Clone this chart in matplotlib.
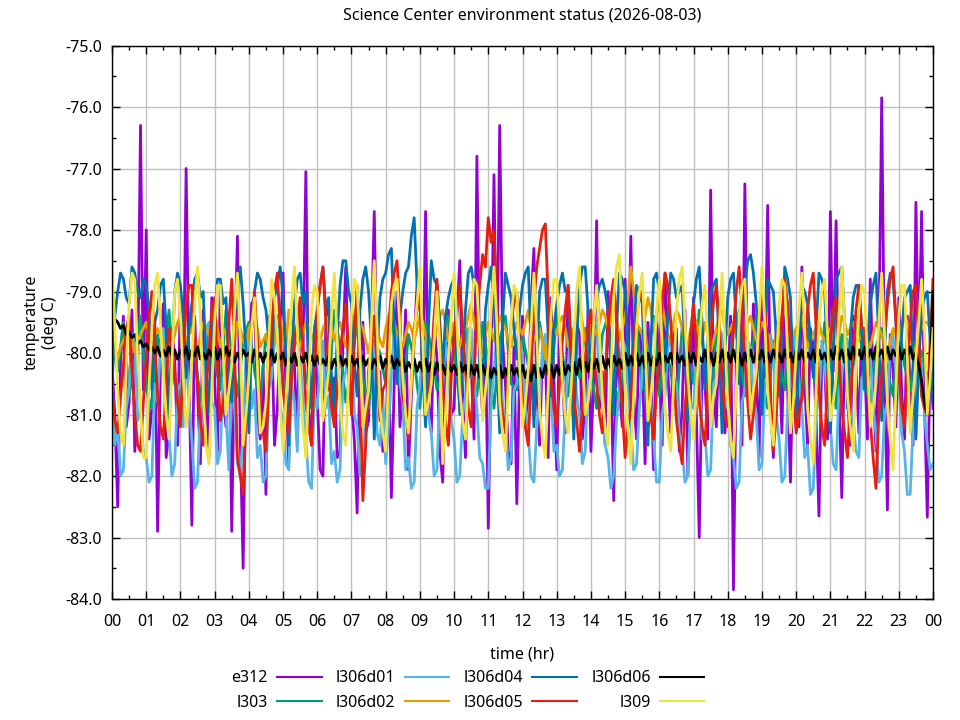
import matplotlib
matplotlib.use("Agg")
import matplotlib.pyplot as plt
from matplotlib.ticker import MultipleLocator, FuncFormatter
import numpy as np

plt.rcParams['font.family'] = ['Noto Sans', 'DejaVu Sans']

# readings every 5 minutes, 00:00 .. 24:00 (one row = one hour)
e312 = [
    -80.2, -81.0, -82.5, -80.1, -79.4, -81.2, -80.8, -79.3, -81.6, -80.4, -76.3, -80.6,
    -78.0, -81.4, -80.9, -79.5, -82.9, -80.2, -79.2, -81.7, -81.3, -79.6, -80.1, -81.5,
    -79.0, -80.7, -77.0, -80.3, -82.8, -79.4, -80.6, -81.8, -79.3, -80.5, -81.7, -79.1,
    -80.4, -81.6, -78.9, -80.8, -81.2, -79.5, -82.9, -80.0, -78.1, -81.4, -83.5, -80.2,
    -80.3, -79.2, -79.1, -81.0, -81.4, -80.2, -82.3, -79.4, -79.6, -81.5, -80.9, -79.7,
    -78.7, -80.6, -81.8, -79.8, -80.2, -81.3, -79.4, -80.0, -77.05, -80.9, -81.5, -79.6,
    -80.7, -81.9, -82.0, -79.5, -79.2, -80.8, -80.4, -81.7, -81.6, -79.9, -78.6, -80.5,
    -80.8, -81.4, -82.6, -80.1, -79.5, -81.3, -81.1, -79.6, -77.7, -80.4, -80.3, -81.6,
    -81.4, -80.0, -82.35, -80.5, -79.0, -81.2, -80.6, -79.3, -81.9, -80.7, -79.8, -78.9,
    -78.8, -80.6, -77.7, -80.8, -81.3, -79.5, -80.1, -81.6, -82.1, -80.3, -79.3, -81.0,
    -80.9, -79.4, -78.5, -80.7, -81.7, -79.8, -80.2, -81.4, -76.8, -80.3, -81.0, -79.7,
    -82.85, -80.2, -77.1, -80.6, -76.3, -79.8, -80.5, -81.6, -81.8, -79.9, -82.45, -80.3,
    -79.4, -81.1, -80.7, -79.2, -78.3, -80.6, -81.5, -80.0, -80.0, -81.7, -79.1, -80.4,
    -81.9, -79.6, -80.4, -81.3, -78.9, -80.2, -81.2, -79.5, -79.7, -81.4, -80.8, -79.3,
    -81.6, -80.4, -77.85, -80.9, -80.3, -81.5, -79.0, -80.2, -82.4, -79.7, -80.6, -81.2,
    -78.8, -80.5, -78.1, -80.7, -81.4, -79.6, -80.1, -81.8, -79.5, -80.4, -81.9, -79.4,
    -80.2, -81.5, -78.7, -80.3, -81.3, -79.7, -79.6, -81.6, -80.9, -79.3, -82.0, -80.6,
    -79.1, -81.0, -83.0, -80.2, -80.5, -81.4, -77.35, -80.6, -81.2, -79.6, -79.8, -81.3,
    -80.6, -79.4, -83.85, -80.1, -79.3, -81.5, -77.25, -80.5, -81.0, -79.2, -80.3, -81.7,
    -78.9, -80.4, -77.6, -80.8, -81.7, -79.5, -80.0, -81.3, -79.2, -80.6, -82.1, -79.9,
    -80.4, -81.2, -78.6, -80.5, -81.5, -79.6, -79.9, -81.1, -82.65, -80.0, -80.2, -81.4,
    -77.7, -80.3, -77.85, -80.6, -82.35, -79.8, -80.7, -81.5, -79.4, -80.2, -81.3, -79.6,
    -80.1, -81.4, -78.8, -80.5, -81.6, -79.9, -75.85, -80.4, -82.55, -79.7, -80.3, -81.2,
    -79.1, -80.6, -81.4, -79.4, -80.6, -81.5, -77.55, -80.2, -77.7, -80.8, -82.67, -80.1,
    -80.9]

# l303: every 10 minutes
l303 = [
    -79.8, -80.3, -79.5, -80.7, -80.1, -79.4, -80.6, -80.9, -79.7, -80.2, -79.3, -80.5,
    -80.8, -79.9, -79.4, -80.4, -80.9, -79.6, -80.1, -80.6, -79.3, -80.0, -80.7, -79.8,
    -79.5, -80.3, -80.8, -79.7, -80.2, -79.4, -80.5, -80.9, -79.9, -79.6, -80.4, -80.7,
    -79.6, -80.1, -80.6, -79.3, -79.9, -80.8, -80.2, -79.5, -80.4, -80.9, -79.8, -80.0,
    -80.5, -79.4, -80.2, -80.7, -79.7, -80.1, -80.9, -79.5, -79.9, -80.6, -80.3, -79.4,
    -80.0, -80.8, -79.6, -80.3, -80.7, -79.5, -80.2, -80.9, -79.8, -79.4, -80.5, -80.6,
    -79.7, -80.2, -80.8, -79.5, -80.1, -80.6, -79.3, -80.0, -80.7, -79.9, -80.4, -79.6,
    -80.3, -80.9, -79.7, -79.4, -80.5, -80.8, -79.9, -80.2, -79.5, -80.6, -80.1, -79.4,
    -80.7, -79.8, -80.3, -80.9, -79.6, -80.0, -80.5, -79.3, -80.2, -80.8, -79.7, -80.1,
    -80.6, -79.5, -79.9, -80.7, -80.2, -79.4, -80.4, -80.9, -79.8, -80.1, -80.6, -79.5,
    -80.0, -80.8, -79.6, -80.3, -80.7, -79.5, -80.1, -80.9, -79.7, -80.4, -80.2, -79.4,
    -80.5, -80.8, -79.9, -79.6, -80.3, -80.7, -79.5, -80.2, -80.6, -79.8, -80.0, -80.4,
    -80.1]

l306d01 = [
    -80.4, -81.5, -81.2, -82.0, -81.9, -80.9, -80.6, -79.7, -79.8, -81.1, -80.9, -81.6,
    -81.7, -82.1, -82.0, -80.5, -80.8, -79.9, -79.6, -80.7, -81.3, -82.0, -81.8, -80.6,
    -80.5, -81.2, -79.9, -80.8, -81.4, -82.2, -82.1, -80.9, -80.7, -79.6, -79.5, -80.8,
    -80.9, -81.8, -81.6, -80.4, -81.0, -81.9, -80.2, -80.9, -81.8, -82.0, -81.3, -80.1,
    -79.7, -80.9, -80.6, -81.7, -81.5, -82.1, -82.0, -80.6, -80.4, -79.8, -79.6, -80.9,
    -81.1, -81.8, -81.9, -80.5, -80.8, -81.6, -80.1, -80.8, -81.4, -82.1, -82.2, -80.7,
    -80.9, -80.2, -79.8, -80.9, -80.7, -81.8, -81.6, -82.1, -81.9, -80.5, -80.3, -79.8,
    -79.9, -81.0, -81.2, -82.0, -82.0, -80.9, -80.6, -79.7, -80.0, -81.3, -81.5, -80.7,
    -81.8, -81.2, -80.4, -79.6, -79.7, -80.5, -80.8, -81.9, -81.7, -82.2, -82.1, -80.9,
    -80.5, -79.9, -79.8, -81.0, -81.3, -82.0, -81.9, -80.7, -80.6, -79.8, -80.2, -81.1,
    -81.4, -82.1, -82.0, -81.0, -80.7, -79.6, -79.6, -80.4, -80.9, -81.7, -81.8, -82.2,
    -82.2, -80.8, -80.3, -79.7, -79.9, -80.8, -81.1, -81.9, -81.7, -80.6, -80.5, -79.8,
    -80.0, -80.9, -81.3, -82.0, -82.1, -81.2, -80.8, -79.9, -79.7, -80.3, -80.6, -81.6,
    -81.5, -82.0, -81.9, -80.9, -80.2, -79.6, -79.8, -80.7, -81.0, -81.8, -81.6, -80.5,
    -80.4, -79.5, -79.5, -80.6, -80.8, -81.5, -81.7, -82.2, -82.0, -81.1, -80.6, -79.8,
    -79.9, -80.5, -81.2, -81.9, -81.8, -80.9, -80.3, -79.6, -80.1, -80.8, -81.4, -82.1,
    -82.1, -81.0, -80.7, -79.9, -79.8, -80.4, -80.5, -81.3, -81.6, -82.1, -82.0, -80.8,
    -80.9, -80.0, -80.2, -81.4, -81.3, -82.0, -81.9, -80.5, -80.4, -79.6, -79.7, -80.9,
    -80.8, -81.5, -81.7, -82.2, -82.1, -80.8, -80.6, -79.8, -79.9, -80.7, -81.0, -81.9,
    -81.8, -80.6, -80.3, -79.7, -80.0, -81.0, -81.4, -82.1, -82.0, -80.9, -80.5, -79.9,
    -79.6, -80.5, -80.9, -81.7, -81.5, -82.3, -82.2, -81.0, -80.7, -79.8, -80.1, -80.9,
    -81.2, -81.8, -81.9, -80.6, -80.4, -79.7, -79.8, -80.9, -81.1, -81.6, -81.7, -80.4,
    -80.6, -79.8, -80.0, -80.9, -81.3, -82.1, -82.0, -81.0, -80.8, -79.9, -79.7, -80.3,
    -80.5, -81.3, -81.6, -82.3, -82.3, -81.2, -80.9, -80.0, -80.2, -81.0, -81.5, -81.9,
    -81.8]

l306d02 = [
    -79.9, -80.0, -80.1, -79.9, -79.8, -79.7, -79.6, -79.8, -80.0, -79.8, -79.7, -79.6,
    -79.5, -79.7, -79.9, -79.7, -79.6, -79.7, -79.8, -80.0, -80.2, -79.9, -79.7, -79.5,
    -79.4, -79.6, -79.8, -79.7, -79.6, -79.8, -80.0, -79.7, -79.5, -79.6, -79.7, -79.5,
    -79.3, -79.6, -79.9, -79.7, -79.6, -79.9, -80.1, -79.8, -79.5, -79.6, -79.8, -79.9,
    -79.6, -79.5, -79.4, -79.6, -79.9, -79.8, -79.7, -79.9, -80.0, -79.7, -79.5, -79.4,
    -79.8, -79.9, -79.3, -79.5, -79.6, -79.8, -79.9, -79.7, -79.5, -79.6, -79.7, -79.8,
    -80.1, -79.8, -79.6, -79.5, -79.4, -79.6, -79.8, -79.6, -79.5, -79.7, -79.9, -79.8,
    -79.7, -79.4, -79.2, -79.5, -79.6, -79.8, -80.0, -79.7, -79.5, -79.6, -79.8, -79.9,
    -79.6, -79.4, -79.3, -79.5, -79.7, -79.8, -79.9, -79.7, -79.5, -79.6, -79.8, -79.6,
    -79.4, -79.5, -79.7, -79.9, -80.1, -79.8, -79.6, -79.4, -79.3, -79.5, -79.8, -79.7,
    -79.5, -79.7, -79.9, -79.7, -79.6, -79.4, -79.2, -79.5, -79.7, -79.9, -80.0, -79.7,
    -79.5, -79.6, -79.8, -79.6, -79.4, -79.5, -79.6, -79.8, -79.9, -79.7, -79.5, -79.6,
    -79.7, -79.5, -79.3, -79.6, -79.8, -79.7, -79.6, -79.8, -80.1, -79.8, -79.5, -79.6,
    -79.7, -79.5, -79.4, -79.6, -79.9, -79.8, -79.6, -79.4, -79.2, -79.5, -79.8, -79.9,
    -79.5, -79.6, -79.7, -79.5, -79.3, -79.4, -79.6, -79.5, -79.0, -79.4, -79.8, -79.6,
    -79.4, -79.1, -78.6, -79.0, -79.5, -79.6, -79.7, -79.4, -79.1, -79.3, -79.6, -79.5,
    -78.9, -79.2, -79.5, -79.7, -79.8, -79.5, -79.3, -79.4, -79.6, -79.8, -79.9, -79.6,
    -79.4, -79.5, -79.7, -79.8, -79.5, -79.7, -80.0, -79.8, -79.6, -79.4, -79.3, -79.6,
    -79.7, -79.6, -79.5, -79.7, -79.9, -79.7, -79.6, -79.5, -79.4, -79.6, -79.8, -79.7,
    -79.5, -79.6, -79.7, -79.9, -80.0, -79.7, -79.6, -79.4, -79.3, -79.5, -79.8, -79.7,
    -79.6, -79.5, -79.4, -79.7, -79.9, -79.8, -79.7, -79.6, -79.5, -79.7, -79.8, -79.7,
    -79.6, -79.8, -80.0, -79.7, -79.4, -79.5, -79.7, -79.6, -79.5, -79.7, -79.8, -79.7,
    -79.6, -79.8, -79.9, -79.7, -79.5, -79.6, -79.7, -79.9, -80.1, -79.8, -79.6, -79.7,
    -79.8, -79.6, -79.4, -79.5, -79.7, -79.9, -80.0, -79.8, -79.6, -79.5, -79.5, -79.6,
    -79.8]

l306d04 = [
    -80.6, -79.4, -79.0, -78.7, -78.8, -79.1, -79.2, -78.6, -78.7, -79.0, -79.1, -78.8,
    -78.9, -79.3, -80.6, -79.5, -79.3, -78.9, -78.8, -79.6, -81.2, -80.1, -79.0, -78.7,
    -78.9, -79.4, -80.4, -79.6, -79.2, -78.8, -78.7, -79.1, -79.0, -80.2, -81.0, -79.5,
    -79.4, -78.8, -78.8, -79.2, -79.1, -80.3, -80.8, -79.4, -78.9, -78.6, -79.2, -80.0,
    -81.3, -79.6, -79.0, -78.7, -78.8, -79.1, -79.3, -79.8, -80.2, -79.1, -78.9, -78.6,
    -79.1, -80.0, -81.5, -80.1, -79.2, -78.8, -78.7, -79.2, -79.0, -80.1, -80.9, -79.6,
    -79.3, -78.9, -78.6, -79.3, -79.1, -80.4, -81.1, -79.7, -78.9, -78.5, -78.5, -79.0,
    -79.2, -80.2, -80.7, -79.3, -78.8, -78.6, -79.0, -79.8, -81.4, -80.0, -79.1, -78.8,
    -78.7, -78.4, -78.3, -79.6, -80.5, -79.4, -79.0, -78.7, -78.6, -78.1, -77.8, -78.9,
    -79.2, -80.3, -81.2, -79.6, -78.5, -78.8, -78.9, -79.5, -80.3, -79.4, -79.1, -78.9,
    -78.8, -79.9, -81.0, -80.0, -79.3, -78.7, -78.6, -78.9, -79.0, -79.8, -80.6, -79.3,
    -78.9, -78.6, -79.2, -80.1, -81.3, -79.5, -78.7, -78.9, -79.1, -79.6, -80.1, -79.3,
    -78.9, -78.7, -78.6, -79.8, -81.2, -80.1, -79.0, -78.8, -78.8, -79.7, -80.7, -79.6,
    -79.2, -78.9, -78.7, -79.0, -79.0, -80.1, -81.4, -79.8, -78.9, -78.6, -78.6, -79.3,
    -80.4, -79.5, -79.1, -78.9, -78.8, -79.0, -79.3, -80.2, -81.0, -79.6, -78.7, -78.8,
    -79.0, -79.9, -80.8, -79.7, -78.9, -79.0, -79.2, -80.4, -81.5, -79.9, -78.8, -78.7,
    -79.0, -79.6, -80.3, -79.4, -78.7, -78.8, -79.1, -79.0, -78.9, -80.0, -81.1, -79.7,
    -79.2, -78.8, -78.6, -79.5, -80.6, -79.8, -79.0, -78.9, -78.8, -79.9, -81.3, -80.0,
    -79.1, -78.8, -78.7, -79.5, -80.5, -79.6, -78.9, -78.5, -78.4, -78.7, -79.2, -80.1,
    -81.0, -79.8, -78.8, -78.9, -79.0, -79.7, -80.7, -79.8, -78.6, -78.8, -79.1, -80.6,
    -81.2, -79.9, -78.9, -79.0, -79.2, -79.8, -80.4, -79.6, -78.7, -78.8, -79.0, -80.2,
    -81.3, -80.0, -78.8, -78.7, -78.6, -79.5, -80.9, -79.7, -79.1, -78.9, -78.9, -79.6,
    -80.6, -79.8, -79.2, -78.9, -78.7, -79.8, -81.1, -80.0, -79.0, -78.7, -78.8, -79.5,
    -80.5, -79.7, -79.1, -79.0, -78.9, -80.1, -81.4, -80.2, -79.3, -79.1, -79.0, -79.8,
    -80.8]

l306d05 = [
    -80.6, -81.1, -81.3, -80.7, -80.2, -79.6, -79.4, -80.3, -81.0, -81.5, -81.6, -80.8,
    -80.1, -79.4, -79.0, -79.8, -80.7, -81.2, -81.4, -80.5, -79.6, -79.9, -80.3, -80.8,
    -81.2, -80.1, -79.2, -78.9, -78.9, -79.7, -80.5, -81.1, -81.5, -80.6, -80.0, -79.3,
    -79.1, -80.2, -81.1, -80.8, -80.4, -79.5, -78.8, -80.0, -81.7, -82.0, -82.3, -81.0,
    -80.2, -79.6, -79.0, -79.8, -80.9, -81.3, -81.6, -80.5, -79.5, -79.0, -78.7, -79.6,
    -80.6, -81.0, -81.3, -80.4, -79.8, -79.5, -79.1, -79.9, -80.8, -81.2, -81.5, -80.3,
    -79.3, -78.9, -78.6, -79.5, -80.4, -80.9, -81.2, -80.6, -80.0, -79.6, -79.2, -80.1,
    -81.0, -79.8, -78.9, -80.6, -82.4, -81.5, -80.3, -79.9, -79.4, -80.2, -81.1, -80.6,
    -80.5, -79.6, -79.0, -78.7, -78.5, -79.4, -80.7, -81.0, -81.4, -80.5, -79.6, -79.3,
    -79.1, -80.0, -81.0, -80.7, -80.2, -79.4, -78.8, -79.7, -80.6, -81.1, -81.5, -80.4,
    -79.7, -79.3, -78.9, -79.6, -80.3, -80.9, -81.2, -80.3, -79.4, -78.9, -78.4, -78.6,
    -77.8, -78.2, -78.0, -79.2, -80.6, -81.0, -81.3, -80.2, -79.5, -79.2, -79.0, -80.0,
    -80.8, -81.2, -81.5, -80.4, -79.2, -78.6, -78.3, -78.0, -77.9, -79.1, -80.4, -80.9,
    -81.2, -80.5, -79.8, -79.3, -78.9, -79.8, -80.7, -81.1, -81.6, -80.9, -80.1, -79.6,
    -79.3, -80.0, -80.5, -81.0, -81.3, -80.4, -79.6, -79.1, -78.8, -79.5, -80.2, -80.9,
    -81.7, -81.2, -80.9, -80.0, -79.4, -79.1, -79.0, -79.7, -80.6, -81.0, -81.4, -80.6,
    -80.0, -79.2, -78.7, -78.9, -79.5, -80.3, -81.1, -81.5, -81.8, -80.9, -80.3, -79.7,
    -79.2, -79.9, -80.8, -81.2, -81.5, -80.6, -79.7, -79.2, -78.9, -79.5, -80.4, -81.0,
    -81.2, -80.5, -79.6, -79.0, -78.6, -79.3, -80.1, -80.8, -81.4, -81.0, -80.5, -79.7,
    -79.0, -79.3, -79.8, -80.7, -81.6, -81.0, -80.2, -79.4, -78.8, -79.2, -79.9, -80.6,
    -81.3, -81.0, -80.7, -79.9, -79.3, -78.9, -78.7, -79.6, -80.6, -81.2, -81.5, -80.4,
    -79.8, -79.3, -79.1, -80.0, -80.9, -81.3, -81.7, -80.8, -80.0, -79.3, -78.9, -79.6,
    -79.6, -80.4, -81.1, -81.7, -82.2, -81.0, -80.4, -79.7, -79.2, -78.8, -78.6, -79.5,
    -80.3, -80.9, -81.2, -80.4, -79.5, -79.0, -78.9, -79.8, -80.7, -80.9, -81.0, -79.8,
    -78.8]

l306d06 = [
    -79.35, -79.45, -79.5, -79.6, -79.55, -79.7, -79.65, -79.75, -79.7, -79.85, -79.8, -79.9,
    -79.85, -79.95, -79.9, -80.0, -79.9, -80.05, -79.95, -80.05, -79.9, -80.05, -79.95, -80.1,
    -79.95, -80.05, -79.9, -80.1, -79.95, -80.05, -79.9, -80.1, -80.0, -80.1, -79.95, -80.05,
    -79.9, -80.1, -79.95, -80.1, -79.9, -80.05, -79.95, -80.15, -80.0, -80.1, -79.95, -80.05,
    -80.0, -80.15, -79.95, -80.1, -80.0, -80.15, -80.0, -80.1, -79.95, -80.15, -80.0, -80.1,
    -80.0, -80.2, -80.05, -80.15, -80.0, -80.2, -80.05, -80.15, -80.0, -80.2, -80.05, -80.2,
    -80.05, -80.2, -80.1, -80.2, -80.05, -80.25, -80.1, -80.2, -80.05, -80.2, -80.1, -80.25,
    -80.05, -80.2, -80.1, -80.25, -80.05, -80.2, -80.1, -80.25, -80.1, -80.2, -80.05, -80.25,
    -80.1, -80.2, -80.05, -80.25, -80.1, -80.2, -80.1, -80.3, -80.15, -80.25, -80.1, -80.3,
    -80.15, -80.3, -80.1, -80.3, -80.15, -80.35, -80.15, -80.3, -80.2, -80.35, -80.15, -80.3,
    -80.2, -80.35, -80.15, -80.3, -80.2, -80.4, -80.2, -80.35, -80.2, -80.4, -80.2, -80.35,
    -80.2, -80.4, -80.25, -80.35, -80.2, -80.4, -80.25, -80.4, -80.2, -80.35, -80.25, -80.4,
    -80.2, -80.4, -80.25, -80.45, -80.2, -80.4, -80.25, -80.4, -80.2, -80.35, -80.2, -80.4,
    -80.2, -80.35, -80.15, -80.35, -80.2, -80.3, -80.15, -80.35, -80.1, -80.3, -80.15, -80.3,
    -80.1, -80.25, -80.1, -80.3, -80.05, -80.25, -80.1, -80.25, -80.05, -80.2, -80.1, -80.25,
    -80.0, -80.2, -80.05, -80.2, -80.0, -80.2, -80.05, -80.25, -80.0, -80.2, -80.05, -80.2,
    -80.0, -80.2, -80.05, -80.15, -80.0, -80.2, -80.0, -80.15, -80.05, -80.2, -80.0, -80.15,
    -80.0, -80.2, -80.05, -80.15, -79.95, -80.15, -80.0, -80.2, -80.0, -80.15, -79.95, -80.15,
    -80.0, -80.15, -79.95, -80.15, -80.0, -80.2, -80.0, -80.15, -79.95, -80.15, -80.0, -80.1,
    -79.95, -80.15, -80.0, -80.15, -79.95, -80.1, -80.0, -80.15, -79.95, -80.1, -80.0, -80.15,
    -79.95, -80.1, -79.95, -80.15, -80.0, -80.1, -79.95, -80.15, -79.95, -80.1, -80.0, -80.15,
    -79.95, -80.1, -79.9, -80.1, -79.95, -80.15, -79.95, -80.1, -79.9, -80.1, -79.95, -80.1,
    -79.9, -80.1, -79.95, -80.1, -79.9, -80.05, -79.95, -80.1, -79.9, -80.1, -79.95, -80.05,
    -79.9, -80.1, -79.95, -80.05, -79.9, -80.1, -80.0, -80.2, -80.45, -80.8, -81.0, -80.3,
    -79.0]

l309 = [
    -78.5, -79.6, -80.6, -81.3, -81.5, -80.2, -79.2, -78.7, -78.8, -80.1, -80.9, -81.7,
    -81.7, -80.5, -79.6, -78.9, -78.7, -79.5, -80.3, -81.0, -81.4, -80.2, -79.0, -78.8,
    -79.4, -80.4, -81.2, -80.8, -80.1, -79.2, -78.6, -79.4, -80.7, -81.5, -81.8, -80.6,
    -79.5, -78.9, -78.9, -80.0, -81.0, -80.6, -80.2, -79.3, -78.7, -79.8, -81.5, -81.0,
    -80.4, -79.6, -79.1, -80.2, -81.3, -81.2, -80.8, -79.8, -78.8, -79.1, -79.7, -80.9,
    -81.6, -80.8, -80.0, -79.2, -78.6, -79.6, -80.5, -81.2, -81.7, -80.5, -79.3, -78.9,
    -79.0, -80.1, -81.1, -80.7, -80.3, -79.4, -78.7, -79.8, -80.8, -81.3, -81.5, -80.4,
    -79.4, -78.8, -78.9, -80.0, -81.2, -80.9, -80.6, -79.5, -78.5, -79.6, -80.9, -81.3,
    -81.6, -80.4, -79.2, -78.9, -78.8, -79.6, -80.4, -81.0, -81.3, -80.5, -79.7, -79.2,
    -78.6, -79.8, -81.0, -80.8, -80.5, -79.8, -79.0, -79.9, -81.8, -81.0, -80.1, -79.4,
    -78.7, -79.5, -80.6, -81.1, -81.4, -80.3, -79.3, -78.8, -78.9, -79.8, -81.1, -80.6,
    -80.2, -79.3, -78.6, -79.5, -80.8, -81.3, -81.6, -80.5, -79.5, -78.9, -79.0, -80.2,
    -81.2, -80.8, -80.3, -79.6, -78.7, -79.7, -80.9, -81.4, -81.7, -80.6, -79.4, -78.8,
    -78.8, -79.6, -80.5, -81.0, -81.3, -80.6, -79.8, -79.0, -78.6, -79.9, -81.0, -80.8,
    -80.4, -79.5, -78.9, -79.7, -80.7, -81.2, -81.5, -80.4, -79.1, -78.6, -78.4, -79.6,
    -80.6, -81.2, -81.8, -80.7, -79.6, -79.0, -78.7, -79.8, -81.1, -80.7, -80.2, -79.3,
    -78.8, -79.9, -80.9, -81.3, -81.6, -80.5, -79.3, -78.8, -78.6, -79.5, -80.4, -81.0,
    -81.4, -80.6, -79.9, -79.2, -78.9, -79.8, -81.2, -80.7, -80.5, -79.6, -78.7, -79.8,
    -80.8, -81.4, -81.7, -80.6, -79.4, -78.9, -78.8, -79.8, -81.0, -80.6, -80.3, -79.4,
    -78.6, -79.5, -80.6, -81.1, -81.5, -80.3, -79.2, -78.8, -78.9, -80.0, -81.3, -80.8,
    -80.0, -79.3, -78.7, -79.6, -80.9, -81.4, -81.8, -80.6, -79.5, -79.0, -78.8, -79.7,
    -81.1, -80.8, -80.4, -79.4, -78.6, -79.5, -80.7, -81.2, -81.6, -80.3, -79.3, -78.9,
    -79.0, -80.1, -81.2, -80.9, -80.5, -79.5, -78.7, -79.7, -80.8, -81.4, -81.9, -80.6,
    -79.4, -78.9, -78.9, -80.1, -81.3, -80.7, -80.1, -79.5, -78.8, -79.6, -81.0, -80.4,
    -79.6]

labels = ['e312', 'l303', 'l306d01', 'l306d02', 'l306d04', 'l306d05', 'l306d06', 'l309']
series = [e312, l303, l306d01, l306d02, l306d04, l306d05, l306d06, l309]
colors = ['#9400d3', '#009e73', '#56b4e9', '#e69f00', '#0072b2', '#e51e10', '#000000', '#f0e442']

fig = plt.figure(figsize=(9.6, 7.2), dpi=100)
ax = fig.add_axes([112/960, 1 - 599/720, (933-112)/960, (599-45.5)/720])

for lab, vals, col in zip(labels, series, colors):
    t = np.linspace(0, 24, len(vals))
    ax.plot(t, vals, color=col, lw=2.0, label=lab)

ax.set_xlim(0, 24)
ax.set_ylim(-84, -75)
ax.xaxis.set_major_locator(MultipleLocator(1))
ax.xaxis.set_minor_locator(MultipleLocator(0.5))
ax.yaxis.set_major_locator(MultipleLocator(1))
ax.yaxis.set_minor_locator(MultipleLocator(0.5))
ax.xaxis.set_major_formatter(FuncFormatter(lambda v, p: '%02d' % (int(round(v)) % 24)))
ax.yaxis.set_major_formatter(FuncFormatter(lambda v, p: '%.1f' % v))
ax.tick_params(which='both', direction='in', top=True, right=True, labelsize=11.5)
ax.tick_params(axis='y', pad=7)
ax.tick_params(axis='x', pad=11)
ax.tick_params(which='major', length=6, width=1)
ax.tick_params(which='minor', length=3, width=1)
ax.grid(True, which='major', color='#c0c0c0', lw=1)
ax.set_axisbelow(True)
for s in ax.spines.values():
    s.set_linewidth(1)

ax.set_title('Science Center environment status (2026-08-03)', fontsize=11.5, pad=19)
ax.set_xlabel('time (hr)', fontsize=11.5, labelpad=12)
ax.set_ylabel('temperature\n(deg C)', fontsize=11.5, labelpad=5)

leg = fig.legend(loc='upper center', bbox_to_anchor=(0.4875, 0.089), ncol=4, frameon=False,
                 markerfirst=False, fontsize=11.5, handlelength=2.8, columnspacing=0.9,
                 labelspacing=0.55, handletextpad=0.56)
for ln in leg.get_lines():
    ln.set_linewidth(1.5)

fig.savefig('out.png', dpi=100)
